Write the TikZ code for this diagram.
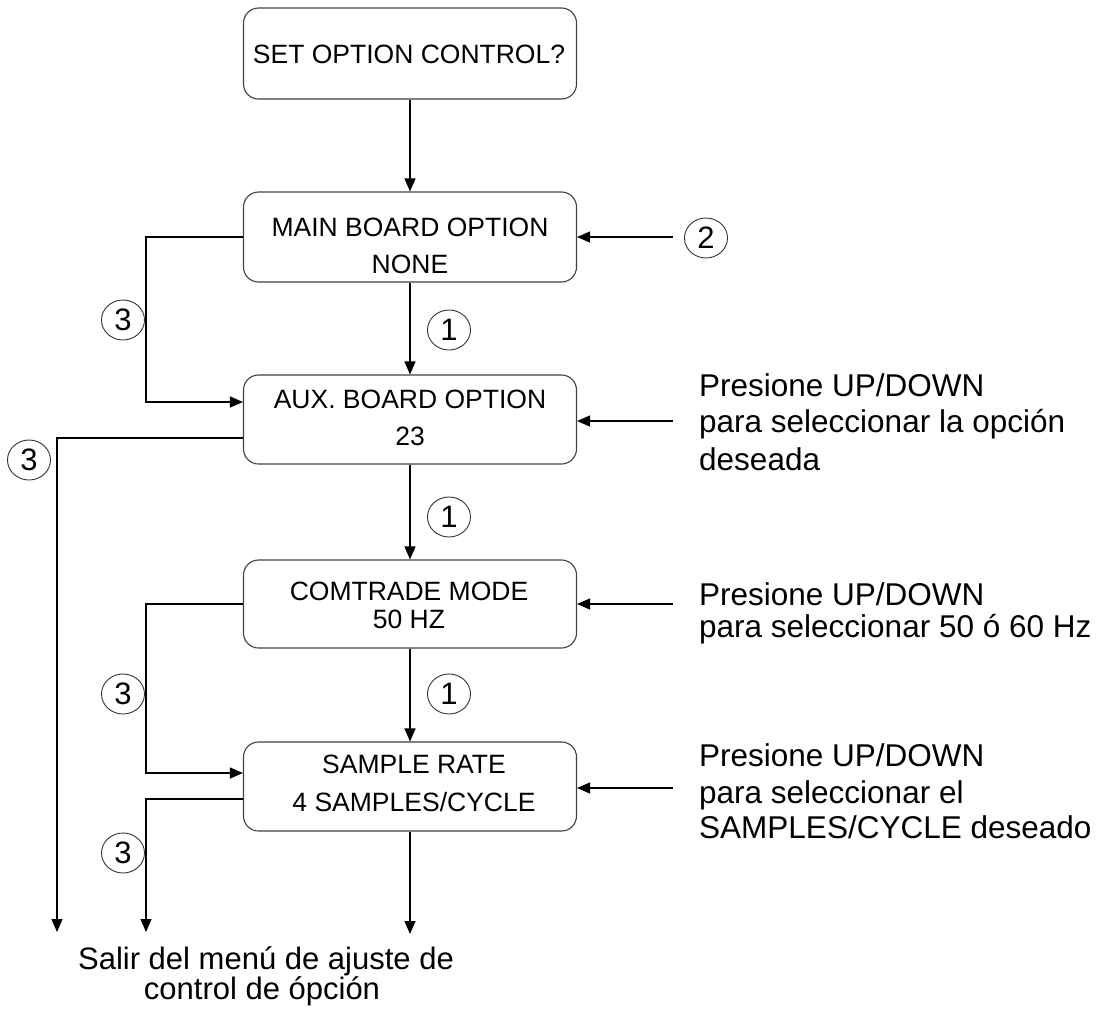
\documentclass[tikz,border=0pt]{standalone}
\usepackage{fontspec}
\setmainfont{Liberation Sans}
\usetikzlibrary{arrows.meta,shapes.geometric}
\begin{document}
\begin{tikzpicture}[x=1pt,y=-1pt,
  box/.style={draw=black!75,line width=1.1pt,rounded corners=15pt,minimum width=333pt,inner sep=0pt},
  btxt/.style={anchor=base,inner sep=0pt,font=\fontsize{26.5}{30}\selectfont},
  rtxt/.style={anchor=base west,inner sep=0pt,font=\fontsize{31.5}{36}\selectfont},
  ctxt/.style={anchor=base,inner sep=0pt,font=\fontsize{31}{36}\selectfont},
  num/.style={draw=black!80,line width=0.9pt,ellipse,minimum width=43pt,minimum height=40pt,inner sep=0pt,font=\fontsize{31}{32}\selectfont},
  arr/.style={line width=1.1pt,-{Triangle[length=13pt,width=11pt]}},
  ln/.style={line width=1.1pt}]
\useasboundingbox (0,0) rectangle (1103,1009);
% boxes
\node[box,minimum height=91pt] (b1) at (410,53.5) {};
\node[box,minimum height=90pt] (b2) at (410,237) {};
\node[box,minimum height=89pt] (b3) at (410,419.5) {};
\node[box,minimum height=88pt] (b4) at (410,604) {};
\node[box,minimum height=89pt] (b5) at (410,786.5) {};
% box texts
\node[btxt] (t1) at (409,63) {SET OPTION CONTROL?};
\node[btxt] (t2a) at (410,236) {MAIN BOARD OPTION};
\node[btxt] (t2b) at (410,273) {NONE};
\node[btxt] (t3a) at (410,408) {AUX. BOARD OPTION};
\node[btxt] (t3b) at (410,445) {23};
\node[btxt] (t4a) at (409,600.5) {COMTRADE MODE};
\node[btxt] (t4b) at (409,628) {50 HZ};
\node[btxt] (t5a) at (414,773) {SAMPLE RATE};
\node[btxt] (t5b) at (414,811) {4 SAMPLES/CYCLE};
% numbered circles
\node[num] (c2) at (706,238) {2};
\node[num] (c1a) at (449,330) {1};
\node[num] (c1b) at (449,517) {1};
\node[num] (c1c) at (449,694) {1};
\node[num] (c3a) at (123,320) {3};
\node[num] (c3b) at (29,460) {3};
\node[num] (c3c) at (123,694) {3};
\node[num] (c3d) at (123,853) {3};
% free ends
\coordinate (r2) at (673,237);
\coordinate (r3) at (673,421);
\coordinate (r4) at (673,604);
\coordinate (r5) at (673,788);
\coordinate (exA) at (57,932);
\coordinate (exB) at (146,932);
\coordinate (exC) at (410,934);
% vertical flow
\draw[arr] (b1.south) -- (b2.north);
\draw[arr] (b2.south) -- (b3.north);
\draw[arr] (b3.south) -- (b4.north);
\draw[arr] (b4.south) -- (b5.north);
\draw[arr] (b5.south) -- (exC);
% right inputs
\draw[arr] (r2) -- (b2.east);
\draw[arr] (r3) -- ([yshift=-1.5pt]b3.east);
\draw[arr] (r4) -- (b4.east);
\draw[arr] (r5) -- ([yshift=-1.5pt]b5.east);
% left loops
\draw[arr] (b2.west) -- ++(-97,0) |- ([yshift=17.5pt]b3.west);
\draw[arr] ([yshift=-18.5pt]b3.west) -| (exA);
\draw[arr] (b4.west) -- ++(-97,0) |- ([yshift=13.5pt]b5.west);
\draw[arr] ([yshift=-12.5pt]b5.west) -| (exB);
% right texts
\node[rtxt] (p1a) at (699,396) {Presione UP/DOWN};
\node[rtxt] (p1b) at (699,432) {para seleccionar la opción};
\node[rtxt] (p1c) at (699,470) {deseada};
\node[rtxt] (p2a) at (699,605) {Presione UP/DOWN};
\node[rtxt] (p2b) at (699,637) {para seleccionar 50 ó 60 Hz};
\node[rtxt] (p3a) at (699,766) {Presione UP/DOWN};
\node[rtxt] (p3b) at (699,803) {para seleccionar el};
\node[rtxt] (p3c) at (699,838) {SAMPLES/CYCLE deseado};
% bottom text
\node[ctxt] (s1) at (266,969) {Salir del menú de ajuste de};
\node[ctxt] (s2) at (262,999) {control de ópción};
\end{tikzpicture}
\end{document}
